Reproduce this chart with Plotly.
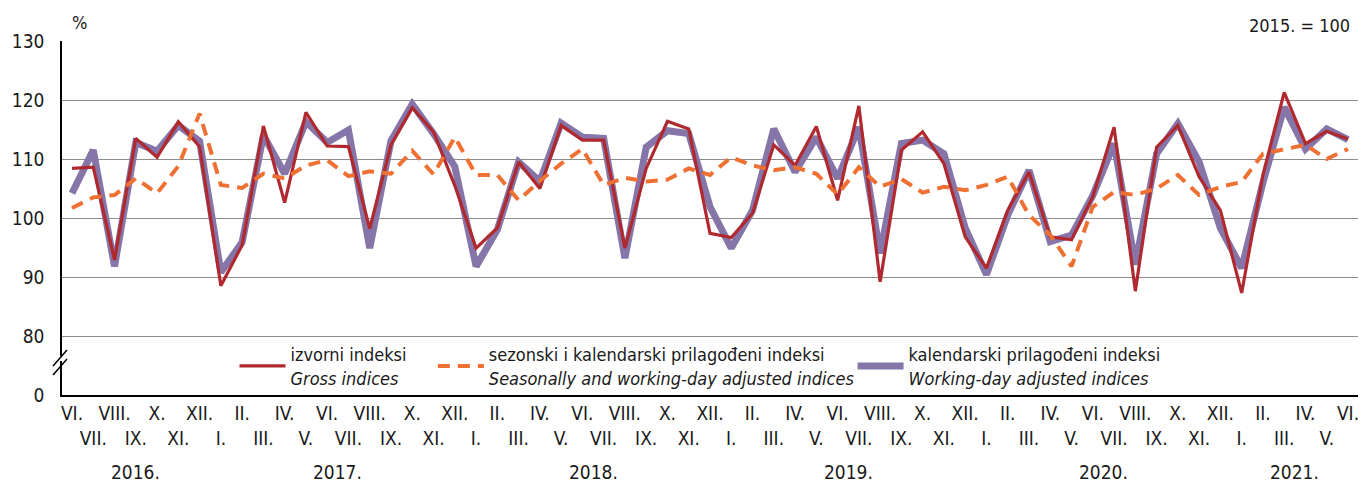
import plotly.graph_objects as go

# ---------------- data ----------------
roman = ['I.', 'II.', 'III.', 'IV.', 'V.', 'VI.', 'VII.', 'VIII.', 'IX.', 'X.', 'XI.', 'XII.']
years = ['2016.', '2017.', '2018.', '2019.', '2020.', '2021.']
first_year, first_month, n_months = 2016, 6, 61

gross = [108.4, 108.6, 92.9, 113.5, 110.3, 116.3, 112.1, 88.5, 95.4, 115.6,
         102.6, 117.9, 112.2, 112.1, 98.2, 112.4, 118.7, 114.6, 105.5, 94.9,
         98.3, 109.5, 105.0, 115.7, 113.2, 113.2, 94.9, 108.4, 116.4, 115.1,
         97.4, 96.7, 100.8, 112.4, 108.9, 115.5, 103.0, 119.0, 89.2, 111.5,
         114.6, 109.2, 96.8, 91.5, 101.3, 107.8, 96.8, 96.3, 103.6, 115.4,
         87.6, 112.0, 115.7, 107.0, 101.3, 87.3, 107.3, 121.3, 112.6, 114.7,
         113.4]

seasonal = [101.7, 103.5, 103.9, 106.7, 104.2, 108.8, 117.7, 105.6, 105.1, 107.5,
            106.7, 108.9, 109.8, 107.1, 107.9, 107.5, 111.4, 107.4, 113.7, 107.3,
            107.3, 103.0, 106.3, 109.2, 111.7, 105.6, 106.8, 106.2, 106.5, 108.4,
            107.3, 110.3, 108.9, 108.1, 108.6, 107.5, 104.0, 108.6, 105.3, 106.6,
            104.3, 105.3, 104.7, 105.6, 107.0, 100.5, 97.1, 91.8, 101.9, 104.4,
            103.9, 105.0, 107.3, 103.9, 105.3, 106.1, 110.9, 111.7, 112.4, 110.0,
            111.7]

working = [104.2, 111.5, 91.8, 112.8, 111.3, 115.7, 113.0, 90.8, 95.9, 114.0,
           107.5, 116.3, 112.8, 114.9, 94.9, 113.1, 119.3, 114.3, 108.7, 91.8,
           98.0, 109.5, 106.2, 116.1, 113.7, 113.5, 93.2, 112.0, 114.8, 114.3,
           101.9, 94.9, 101.3, 115.1, 107.8, 113.7, 106.7, 115.4, 94.0, 112.6,
           113.2, 110.9, 98.3, 90.4, 100.5, 108.1, 96.0, 97.1, 103.8, 112.6,
           92.1, 110.9, 116.0, 109.5, 98.3, 91.5, 106.0, 118.8, 111.7, 115.1,
           113.3]

y_tick_vals = [70, 80, 90, 100, 110, 120, 130]
y_tick_text = ['0', '80', '90', '100', '110', '120', '130']

legend_names = [
    ('izvorni indeksi', 'Gross indices'),
    ('sezonski i kalendarski prilagođeni indeksi', 'Seasonally and working-day adjusted indices'),
    ('kalendarski prilagođeni indeksi', 'Working-day adjusted indices'),
]

# ---------------- derived ----------------
x = list(range(n_months))
month_idx = [(first_month - 1 + i) % 12 for i in range(n_months)]
month_year = [first_year + (first_month - 1 + i) // 12 for i in range(n_months)]
tick_text = [roman[m] if i % 2 == 0 else '<br>' + roman[m] for i, m in enumerate(month_idx)]

FONT = "Liberation Sans Narrow, DejaVu Sans Condensed, Arial Narrow, sans-serif"
RED = '#B0292E'
ORANGE = '#EE7033'
PURPLE = '#8575A9'

fig = go.Figure()
fig.add_trace(go.Scatter(x=x, y=working, mode='lines', name='%s<br><i>%s</i>' % legend_names[2],
                         line=dict(color=PURPLE, width=7), legend='legend3'))
fig.add_trace(go.Scatter(x=x, y=gross, mode='lines', name='%s<br><i>%s</i>' % legend_names[0],
                         line=dict(color=RED, width=3.2), legend='legend'))
fig.add_trace(go.Scatter(x=x, y=seasonal, mode='lines', name='%s<br><i>%s</i>' % legend_names[1],
                         line=dict(color=ORANGE, width=4, dash='12px,8px'), legend='legend2'))

# pixel helpers for layout geometry
L, R, T, B = 58, 14, 41, 87
W, H = 1372, 482
pw = W - L - R
ph = H - T - B

def px2paper_x(px):
    return (px - L) / pw

def px2paper_y(py):
    return (H - B - py) / ph

def px2y(py):
    return 70 + (H - B - py) / ph * 60

leg_common = dict(orientation='h', xanchor='left', yanchor='middle', bgcolor='rgba(0,0,0,0)',
                  font=dict(family=FONT, size=18, color='#1a1a1a'), itemwidth=46)

fig.update_layout(
    width=W, height=H,
    margin=dict(l=L, r=R, t=T, b=B),
    plot_bgcolor='white', paper_bgcolor='white',
    font=dict(family=FONT, size=19, color='#1a1a1a'),
    xaxis=dict(range=[-0.47, n_months - 1 + 0.47], tickmode='array', tickvals=x, ticktext=tick_text,
               showgrid=False, zeroline=False, showline=True, linecolor='black', linewidth=2,
               ticks='', tickangle=0, tickfont=dict(size=19)),
    yaxis=dict(range=[70, 130], tickmode='array', tickvals=y_tick_vals, ticktext=y_tick_text,
               showgrid=True, gridcolor='#8c8c8c', gridwidth=1, zeroline=False,
               showline=True, linecolor='black', linewidth=1.5, ticks='', ticklabelstandoff=12,
               tickfont=dict(size=19)),
    legend=dict(x=px2paper_x(231), y=px2paper_y(366), **leg_common),
    legend2=dict(x=px2paper_x(430), y=px2paper_y(366), **leg_common),
    legend3=dict(x=px2paper_x(851), y=px2paper_y(366), **leg_common),
    showlegend=True,
)

# year labels centred under each year's months
for yr_label in years:
    yr = int(yr_label[:4])
    idxs = [i for i in x if month_year[i] == yr]
    fig.add_annotation(x=(idxs[0] + idxs[-1]) / 2, y=0, xref='x', yref='paper', yshift=-77,
                       text=yr_label, showarrow=False, yanchor='middle', xanchor='center',
                       font=dict(size=19))

fig.add_annotation(x=px2paper_x(66), y=1, xref='paper', yref='paper', yshift=19, text='%',
                   showarrow=False, xanchor='left', yanchor='middle', font=dict(size=18))
fig.add_annotation(x=px2paper_x(1352), y=1, xref='paper', yref='paper', yshift=16, text='2015. = 100',
                   showarrow=False, xanchor='right', yanchor='middle', font=dict(size=18))

# axis break marks
fig.add_shape(type='line', xref='paper', yref='y', x0=px2paper_x(58), x1=px2paper_x(58),
              y0=px2y(361), y1=px2y(356), line=dict(color='white', width=4))
for off in (0, 9):
    fig.add_shape(type='line', xref='paper', yref='y', x0=px2paper_x(49), x1=px2paper_x(63),
                  y0=px2y(366 + off), y1=px2y(350 + off), line=dict(color='black', width=1.5))

fig.write_html("out.html", config={'displayModeBar': False},
               post_script="document.body.style.margin='0';")
